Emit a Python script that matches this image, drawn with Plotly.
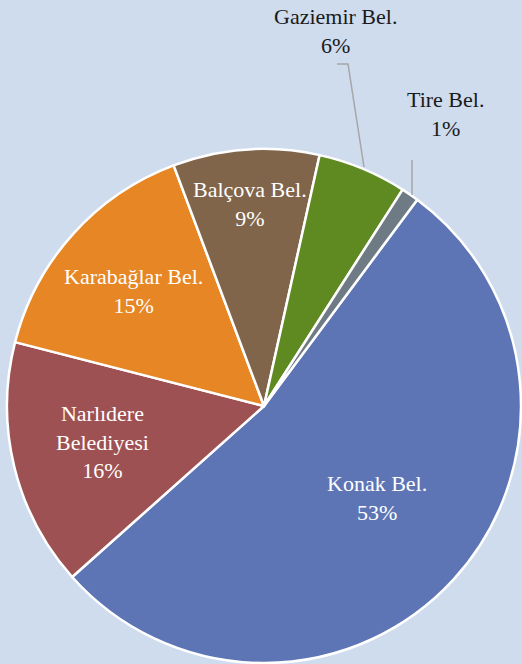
import plotly.graph_objects as go

# Data
categories = ["Konak Bel.", "Narlıdere Belediyesi", "Karabağlar Bel.", "Balçova Bel.", "Gaziemir Bel.", "Tire Bel."]
display_labels = ["Konak Bel.", "Narlıdere<br>Belediyesi", "Karabağlar Bel.", "Balçova Bel.", "Gaziemir Bel.", "Tire Bel."]
values = [53.3, 15.6, 15.3, 9.2, 5.6, 1.1]
colors = ["#5d75b4", "#9e5152", "#e68624", "#80654a", "#5f8a22", "#6e7b84"]

W, H = 522, 664
total = sum(values)
pcts = [round(v / total * 100) for v in values]

# label placements (pixel centres) and colours
label_pos = [(377, 498), (102, 442), (133, 291), (250, 204), (335, 31), (445, 114)]
label_col = ["white", "white", "white", "white", "#1a1a1a", "#1a1a1a"]

cx, cy, r = 264, 406, 257
FONT = "'Liberation Serif', 'Times New Roman', Times, serif"

fig = go.Figure(go.Pie(
    labels=categories,
    values=values,
    sort=False,
    direction="clockwise",
    rotation=36.6,
    marker=dict(colors=colors, line=dict(color="white", width=2.5)),
    textinfo="none",
    hoverinfo="label+percent",
    domain=dict(x=[(cx - r) / W, (cx + r) / W], y=[(H - cy - r) / H, (H - cy + r) / H]),
    showlegend=False,
))

annotations = []
for lab, p, (px, py), col in zip(display_labels, pcts, label_pos, label_col):
    annotations.append(dict(
        text=f"{lab}<br>{p}%",
        x=px / W, y=1 - py / H, xref="paper", yref="paper",
        xanchor="center", yanchor="middle", showarrow=False,
        font=dict(family=FONT, size=22, color=col),
    ))

def P(x, y):
    return f"{x / W} {1 - y / H}"

shapes = [
    dict(type="path", xref="paper", yref="paper",
         path=f"M {P(337, 64)} L {P(348, 64)} L {P(364, 167)}",
         line=dict(color="#a6a6a6", width=1.5)),
    dict(type="path", xref="paper", yref="paper",
         path=f"M {P(412, 160)} L {P(412, 195)}",
         line=dict(color="#a6a6a6", width=1.5)),
]

fig.update_layout(
    width=W, height=H,
    margin=dict(l=0, r=0, t=0, b=0),
    paper_bgcolor="#cfdcee",
    plot_bgcolor="#cfdcee",
    font=dict(family=FONT),
    annotations=annotations,
    shapes=shapes,
)

fig.write_html(
    "out.html",
    config={"displayModeBar": False},
    post_script="document.body.style.margin='0';document.body.style.overflow='hidden';",
)
